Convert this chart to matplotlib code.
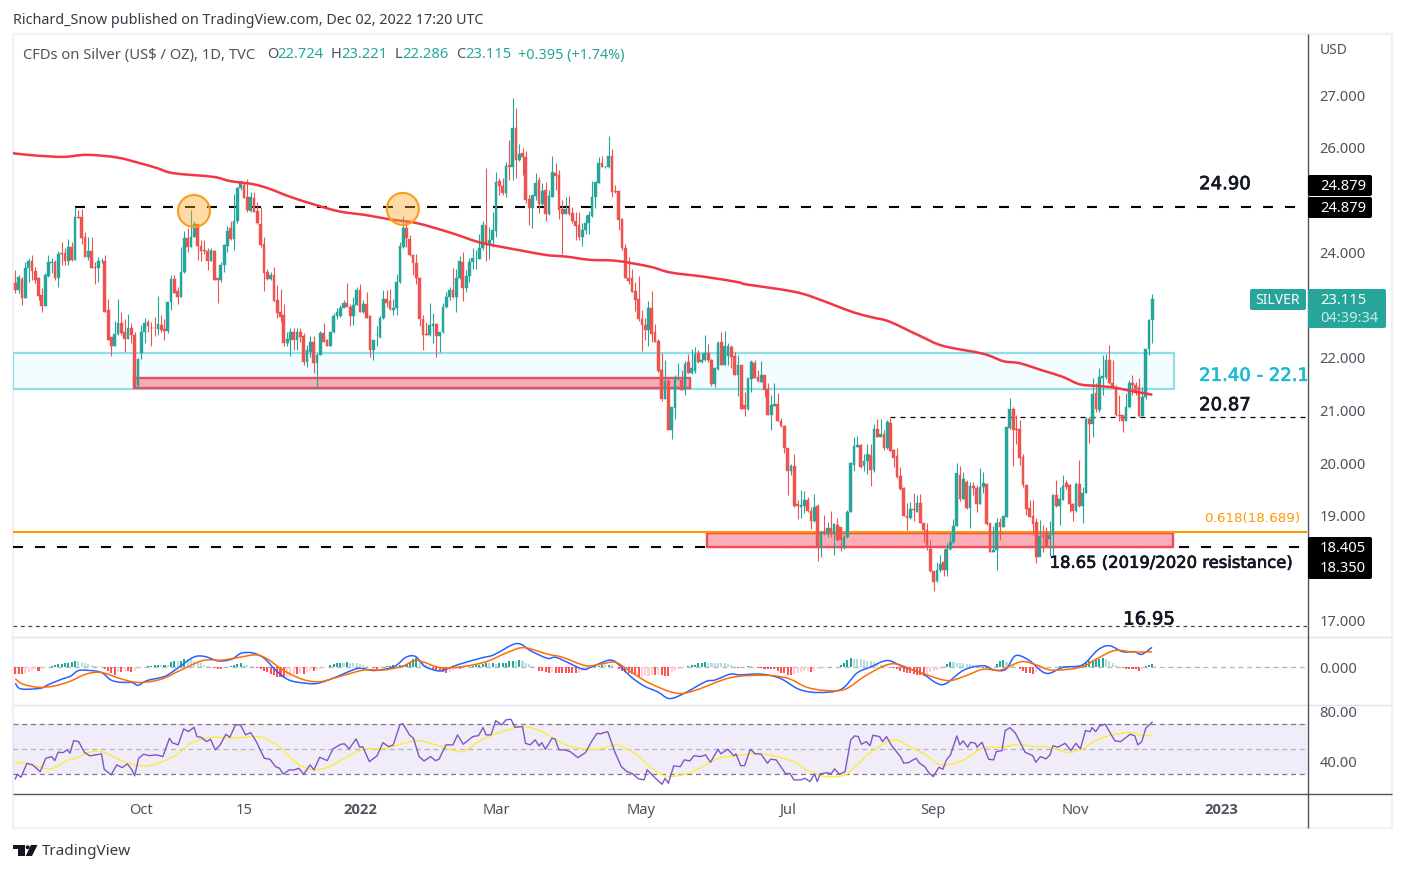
import matplotlib
matplotlib.use("Agg")
import matplotlib.pyplot as plt
import matplotlib.patheffects as pe
import numpy as np
from matplotlib.lines import Line2D
from matplotlib.path import Path
from matplotlib.patches import Circle, FancyBboxPatch, PathPatch, Polygon, Rectangle
from matplotlib.transforms import IdentityTransform

W, H = 1405, 872
UI_FONT = "Noto Sans"
LABEL_FONT = "DejaVu Sans"

# daily candles
opens = [
    23.42,23.29,23.50,23.15,23.71,23.85,23.65,23.53,23.20,22.99,
    23.56,23.80,23.83,23.53,24.00,24.00,23.85,24.11,23.87,24.68,
    24.68,24.31,23.93,24.04,23.74,23.72,23.85,23.85,22.91,22.40,
    22.22,22.45,22.66,22.49,22.36,22.58,22.44,21.47,22.10,22.50,
    22.68,22.58,22.58,22.55,22.63,22.55,22.52,23.06,23.50,23.27,
    23.17,23.63,24.28,24.12,24.30,24.55,24.14,24.05,24.03,23.85,
    24.03,23.52,23.49,23.77,24.14,24.47,24.27,24.60,25.24,25.30,
    25.06,24.80,25.05,24.80,24.56,24.17,23.63,23.50,23.58,23.10,
    22.88,22.81,22.29,22.34,22.50,22.34,22.49,22.42,21.93,22.12,
    22.30,21.91,22.06,22.47,22.34,22.23,22.49,22.80,22.80,22.95,
    23.04,22.98,22.80,23.01,23.29,22.87,23.03,22.80,22.15,22.43,
    22.40,22.76,23.12,23.09,22.91,22.96,23.44,24.12,24.47,24.26,
    23.97,23.80,23.52,22.75,22.45,22.44,22.61,22.65,22.41,22.49,
    22.97,23.17,23.30,23.17,23.52,23.82,23.34,23.57,23.82,23.90,
    23.89,24.09,24.53,24.18,24.25,24.42,25.37,25.28,25.15,25.67,
    25.63,26.38,25.77,25.90,25.82,25.02,24.86,25.09,25.39,24.93,
    25.20,24.74,25.07,25.52,25.48,24.83,24.75,24.85,24.77,24.61,
    24.53,24.31,24.43,24.57,24.70,25.06,25.34,25.72,25.63,25.63,
    25.85,25.19,25.18,24.65,24.10,23.53,23.52,23.27,23.12,22.74,
    22.63,22.53,22.96,22.49,22.32,21.77,21.21,21.56,20.63,21.04,
    21.60,21.58,21.39,21.92,21.71,21.75,22.10,21.93,21.96,22.09,
    21.97,21.50,21.79,22.30,21.87,22.04,22.20,22.03,21.67,21.87,
    21.10,21.03,21.60,21.91,21.63,21.55,21.68,21.41,20.91,21.09,
    21.13,20.80,20.71,20.28,19.85,19.94,19.22,19.17,19.18,19.30,
    19.09,18.90,19.19,18.39,18.69,18.65,18.76,18.65,18.82,18.78,
    18.39,18.59,19.06,19.96,20.31,20.35,19.94,20.03,20.15,19.87,
    20.65,20.50,20.56,20.28,20.77,20.24,20.13,19.75,19.52,19.00,
    18.96,19.12,19.07,19.23,18.86,18.72,18.37,17.94,17.75,17.96,
    18.12,17.96,18.37,18.50,18.80,19.78,19.31,19.64,19.14,19.56,
    19.53,19.22,19.54,19.60,18.85,18.31,18.34,18.88,18.79,18.98,
    20.66,21.03,20.64,20.64,20.12,19.59,19.15,18.99,18.88,18.21,
    18.63,18.69,18.56,18.62,19.39,19.18,19.30,19.61,19.58,19.22,
    19.08,19.60,19.18,19.43,20.83,20.74,21.33,21.01,21.62,21.64,
    21.97,21.53,21.45,20.92,20.92,20.80,21.06,21.52,21.48,21.44,
    20.90,21.25,22.17,22.724,
]
closes = [
    23.29,23.55,23.15,23.71,23.85,23.65,23.49,23.18,22.99,23.59,
    23.83,23.83,23.53,23.99,23.98,23.85,24.11,23.87,24.68,24.66,
    24.29,23.93,24.04,23.72,23.72,23.85,23.85,22.88,22.34,22.22,
    22.45,22.66,22.47,22.36,22.58,22.44,21.49,21.98,22.50,22.66,
    22.60,22.57,22.57,22.64,22.53,22.52,23.06,23.50,23.24,23.17,
    23.63,24.28,24.12,24.30,24.55,24.14,24.04,24.03,23.85,24.05,
    23.49,23.49,23.77,24.15,24.42,24.27,24.60,25.24,25.33,25.05,
    24.81,25.06,24.79,24.58,24.15,23.62,23.50,23.58,23.09,22.86,
    22.79,22.29,22.36,22.50,22.34,22.50,22.40,21.93,22.15,22.31,
    21.91,22.06,22.47,22.31,22.23,22.49,22.80,22.87,22.95,23.05,
    22.98,22.80,23.01,23.30,22.87,23.03,22.77,22.15,22.34,22.44,
    22.77,23.12,23.04,22.93,22.96,23.44,24.13,24.47,24.28,23.96,
    23.80,23.52,22.75,22.44,22.44,22.63,22.65,22.41,22.49,22.97,
    23.17,23.30,23.17,23.53,23.85,23.34,23.57,23.82,23.91,23.91,
    24.09,24.53,24.18,24.25,24.44,25.35,25.28,25.15,25.66,25.63,
    26.38,25.77,25.88,25.82,25.01,24.86,25.10,25.33,24.93,25.18,
    24.74,25.09,25.54,25.47,24.82,24.75,24.83,24.74,24.60,24.52,
    24.30,24.44,24.58,24.72,25.06,25.35,25.71,25.63,25.64,25.85,
    25.17,25.17,24.63,24.10,23.53,23.47,23.26,23.10,22.74,22.62,
    22.53,22.96,22.46,22.31,21.75,21.21,21.56,20.63,21.07,21.60,
    21.61,21.39,21.88,21.71,21.80,22.07,21.93,21.96,22.09,21.96,
    21.50,21.80,22.28,21.87,22.23,22.23,22.02,21.67,21.87,21.03,
    21.03,21.61,21.93,21.61,21.56,21.68,21.39,20.91,21.10,21.12,
    20.80,20.71,20.28,19.85,19.94,19.19,19.19,19.20,19.30,19.09,
    18.90,19.17,18.39,18.69,18.65,18.76,18.65,18.83,18.53,18.53,
    18.59,19.07,20.00,20.33,20.35,19.93,20.04,20.17,19.87,20.65,
    20.50,20.56,20.28,20.79,20.23,20.10,19.74,19.50,18.99,18.96,
    19.12,19.11,19.23,18.86,18.72,18.40,17.94,17.74,17.96,18.07,
    17.96,18.37,18.50,18.80,19.81,19.31,19.69,19.14,19.56,19.53,
    19.22,19.54,19.61,18.83,18.31,18.34,18.85,18.79,18.99,20.68,
    21.02,20.63,20.63,20.09,19.58,19.12,18.98,18.83,18.21,18.61,
    18.60,18.40,18.62,19.39,19.18,19.32,19.56,19.54,19.22,19.08,
    19.60,19.18,19.43,20.83,20.75,21.31,21.02,21.64,21.65,21.96,
    21.52,21.44,20.91,20.90,20.80,21.06,21.52,21.48,21.34,20.90,
    21.25,22.17,22.72,23.115,
]
highs = [
    23.68,23.58,23.55,23.83,23.90,23.96,23.74,23.55,23.33,23.61,
    23.96,23.90,23.87,24.03,24.20,24.09,24.26,24.20,24.88,24.82,
    24.83,24.40,24.30,24.30,23.83,23.93,23.90,23.96,23.12,22.40,
    22.71,23.13,22.87,22.75,22.83,22.67,22.50,22.00,22.62,22.77,
    22.72,22.68,22.79,23.18,22.82,22.75,23.06,23.58,23.58,23.36,
    24.12,24.42,24.47,24.82,24.60,24.56,24.25,24.24,24.09,24.09,
    24.05,23.53,23.82,24.18,24.52,24.60,25.12,25.26,25.39,25.36,
    25.40,25.17,25.17,24.97,24.88,24.31,23.70,23.64,23.74,23.39,
    23.31,23.03,22.50,22.57,22.57,22.57,22.57,22.47,22.25,22.42,
    22.41,22.10,22.52,22.66,22.37,22.49,22.85,22.95,23.00,23.10,
    23.43,23.03,23.17,23.36,23.41,23.11,23.26,22.82,22.34,22.60,
    22.80,23.30,23.30,23.31,23.13,23.60,24.20,24.70,24.63,24.34,
    23.98,23.98,23.55,22.82,22.69,23.04,22.85,22.67,22.50,23.05,
    23.26,23.36,23.71,23.69,23.94,24.01,23.68,23.90,24.09,24.06,
    24.36,24.60,25.61,24.50,24.79,25.55,25.42,25.42,25.74,26.15,
    26.95,26.77,26.08,26.00,25.94,25.10,25.10,25.53,25.44,25.33,
    25.36,25.20,25.85,25.71,25.58,25.01,25.07,25.08,24.88,24.79,
    24.79,24.57,24.72,24.80,25.37,25.36,25.82,25.85,25.66,26.23,
    25.99,25.29,25.20,24.66,24.17,23.93,23.70,23.45,23.56,22.91,
    22.77,23.09,23.28,22.65,22.37,22.09,21.96,21.64,21.07,21.67,
    21.90,21.77,21.94,22.07,22.18,22.20,22.15,22.09,22.44,22.27,
    21.99,21.83,22.33,22.49,22.51,22.28,22.25,22.12,22.06,21.87,
    21.36,21.61,21.96,21.96,21.77,21.94,21.68,21.52,21.29,21.53,
    21.34,20.85,20.72,20.29,19.99,20.18,19.29,19.49,19.47,19.36,
    19.17,19.41,19.22,18.71,19.01,18.88,19.09,18.85,18.95,18.78,
    18.63,19.10,20.02,20.50,20.51,20.37,20.18,20.37,20.37,20.74,
    20.83,20.83,20.63,20.82,20.85,20.26,20.28,19.93,19.55,19.23,
    19.26,19.42,19.39,19.41,18.86,18.85,18.53,17.94,18.12,18.25,
    18.37,18.47,18.66,18.93,20.00,19.94,19.82,19.67,19.64,19.64,
    19.59,19.90,19.83,19.61,18.85,18.80,18.96,18.95,18.99,20.69,
    21.24,21.06,20.91,20.81,20.17,19.60,19.29,19.29,18.96,18.91,
    18.82,18.79,18.90,19.41,19.67,19.55,19.77,19.67,19.60,19.23,
    19.63,20.06,19.55,20.88,20.87,21.61,21.52,21.81,22.05,22.07,
    22.25,21.97,21.48,21.29,20.92,21.33,21.59,21.67,21.55,21.61,
    21.45,22.18,22.74,23.221,
]
lows = [
    23.23,23.23,23.01,23.14,23.44,23.49,23.42,23.10,22.88,22.99,
    23.55,23.61,23.49,23.36,23.77,23.77,23.78,23.85,23.87,24.66,
    24.18,23.92,23.87,23.71,23.40,23.45,23.80,22.88,22.34,22.04,
    22.22,22.44,22.44,22.12,22.36,22.28,21.45,21.45,21.99,22.28,
    22.50,22.22,22.42,22.44,22.50,22.34,22.47,22.91,23.23,23.03,
    23.17,23.61,24.02,24.12,24.30,23.87,23.85,23.99,23.67,23.84,
    23.49,23.04,23.45,23.64,24.02,24.25,24.06,24.58,25.20,25.05,
    24.79,24.79,24.79,24.56,24.12,23.28,23.49,23.49,23.09,22.77,
    22.69,22.22,22.22,22.04,22.15,22.15,22.31,21.87,21.83,22.02,
    21.71,21.45,22.06,22.31,22.22,22.22,22.48,22.75,22.78,22.95,
    22.98,22.60,22.63,23.01,22.87,22.85,22.77,22.02,21.96,22.22,
    22.39,22.75,22.98,22.91,22.82,22.82,23.43,24.09,24.12,23.95,
    23.59,23.41,22.60,22.15,22.43,22.41,22.28,22.02,22.12,22.47,
    22.96,23.10,23.15,22.88,23.50,23.09,23.26,23.44,23.69,23.70,
    23.89,24.06,23.85,23.89,24.11,24.30,25.10,25.10,25.06,25.39,
    25.39,25.42,25.76,25.49,24.96,24.53,24.47,25.01,24.76,24.91,
    24.60,24.73,25.06,25.20,24.64,23.98,24.75,24.72,24.57,24.25,
    24.25,24.14,24.37,24.37,24.69,24.85,25.33,25.63,25.62,25.62,
    25.07,25.14,24.44,24.06,23.52,23.41,23.25,22.90,22.71,22.14,
    22.34,22.23,22.31,22.31,21.74,21.19,21.21,20.63,20.45,20.83,
    21.59,21.39,21.29,21.71,21.70,21.71,21.91,21.91,21.95,21.93,
    21.46,21.45,21.77,21.87,21.87,21.87,21.80,21.67,21.28,21.03,
    20.90,21.01,21.36,21.61,21.55,21.55,21.25,20.91,20.62,21.08,
    20.80,20.69,20.20,19.39,19.77,19.17,18.93,18.96,19.04,19.07,
    18.74,18.88,18.14,18.21,18.63,18.60,18.60,18.25,18.52,18.33,
    18.37,18.58,19.06,19.85,20.30,19.90,19.85,19.79,19.57,19.82,
    20.49,20.49,20.25,20.26,20.23,19.93,19.71,19.49,18.99,18.72,
    18.93,18.90,19.07,18.85,18.50,18.35,17.93,17.56,17.73,17.93,
    17.85,17.85,18.34,18.47,18.80,19.28,19.31,19.12,18.77,19.40,
    19.07,19.21,19.42,18.82,18.31,18.30,17.96,18.53,18.78,18.97,
    20.65,19.94,20.37,19.96,19.55,19.01,18.97,18.63,18.10,18.23,
    18.30,18.40,18.23,18.25,19.17,18.82,19.30,19.50,19.07,18.90,
    19.07,19.17,18.85,19.42,20.39,20.50,20.98,20.98,21.29,21.60,
    21.50,21.42,20.90,20.80,20.60,20.80,21.05,21.29,21.29,20.88,
    20.89,21.22,22.06,22.286,
]

# 200 day moving average: bar number, price
ma_bar = [-0.7,5.4,14.5,21.5,30.6,37.6,42.6,47.7,59.7,64.8,71.8,76.8,82.9,90.9,97.9,106,113,121,
          131.1,140.1,147.2,153.2,160.3,166.3,173.3,181.4,191.4,197.5,207.5,217.6,220.6,230.6,
          237.7,245.7,252.8,258.8,263.8,272.9,279.9,292,298,303,310,316,321,326,331,336,343]
ma_val = [25.90,25.86,25.83,25.87,25.82,25.71,25.62,25.52,25.45,25.37,25.31,25.22,25.07,24.91,24.79,24.72,24.64,24.57,
          24.39,24.20,24.11,24.04,23.96,23.93,23.87,23.85,23.74,23.63,23.55,23.45,23.40,23.31,
          23.22,23.04,22.87,22.77,22.69,22.42,22.23,22.08,21.94,21.90,21.76,21.64,21.50,21.47,21.44,21.38,21.30]

# MACD pane
macd_bar = [0,1.7,7.5,9.8,13.9,16.7,19.1,22.5,26,28.9,31.8,35.2,37,39.8,45,48.5,53.7,57.2,61.2,65.2,68.1,71.6,75.1,
            78.5,82.6,87.8,91.2,95.8,100.5,103.9,108.5,114.3,117.8,120.7,123.6,127.6,129.9,133.9,140.9,144.3,150.1,
            152.7,155.3,160.5,163.4,170.9,173.2,176.4,179.3,181.6,185.6,189.7,193.7,197.2,201.2,208.2,211,215.7,218.5,
            224.9,230.7,236.4,242.2,249.1,253.8,257.8,263,267.6,273.4,278,280.9,286.1,291.9,295.3,298.8,301.7,305.7,
            310.9,316.1,321.9,326.5,330,334,337.5,339.8,342.9]
macd_val = [-0.40,-0.54,-0.525,-0.44,-0.30,-0.22,-0.08,-0.08,-0.13,-0.32,-0.375,-0.38,-0.45,-0.33,-0.23,-0.05,0.25,0.27,0.16,0.20,0.35,0.36,0.225,
            -0.07,-0.32,-0.40,-0.40,-0.275,-0.11,-0.025,-0.08,0.02,0.25,0.27,0.02,-0.09,-0.05,0.075,0.24,0.31,0.57,
            0.57,0.42,0.225,0.24,-0.04,-0.01,0.10,0.18,0.10,-0.23,-0.47,-0.61,-0.78,-0.675,-0.36,-0.32,-0.17,-0.19,
            -0.17,-0.275,-0.55,-0.63,-0.55,-0.15,0,0.17,0.02,-0.15,-0.40,-0.40,-0.07,0.04,-0.07,-0.05,0.29,0.18,
            -0.15,0,0.06,0.43,0.54,0.39,0.39,0.325,0.50]
signal_bar = [0,2.3,6.9,11.5,16.2,21.4,26,32.3,37.5,43.9,49.7,56.6,62.4,67.6,72.7,76.2,80.8,86.6,91.8,97,105.1,110.9,116.6,
              121.2,128.2,135.1,142,149,153.6,160.5,165.1,172,176.4,181,185.6,191.4,199.5,205.3,215.7,226,233,238.8,244.5,
              250.3,256.1,261.9,265.9,272.2,280.9,286.1,291.9,297.1,303.4,308,312.7,321.3,326.5,331.7,337.5,342.9]
signal_val = [-0.29,-0.42,-0.50,-0.47,-0.36,-0.17,-0.13,-0.30,-0.38,-0.30,-0.08,0.17,0.18,0.25,0.31,0.20,-0.07,-0.30,-0.36,-0.25,-0.07,-0.07,0.02,
              0.17,-0.01,0.02,0.14,0.39,0.49,0.33,0.25,0.04,0.075,0.125,-0.11,-0.40,-0.65,-0.57,-0.26,-0.20,-0.275,-0.50,-0.58,
              -0.55,-0.23,0.03,0.08,-0.11,-0.33,-0.23,-0.05,-0.07,0.14,0.06,-0.07,0,0.225,0.42,0.38,0.39]
# histogram in hundredths
hist_pct = [
    -17,-17,-17,-13,-11,-8,-4,-8,-4,-1, 1,3,5,8,9,11,12,13,17,17,
    14,11,8,6,4,3,1,-4,-10,-15, -18,-12,-12,-10,-10,-12,-8,-4,-1,1,
    3,4,5,6,5,7,7,13,15,15, 17,20,20,20,17,12,10,7,4,1,
    -2,-3,-4,1,2,3,5,8,10,7, 5,3,1,-1,-4,-8,-12,-17,-18,-23,
    -25,-27,-25,-21,-17,-17,-15,-17,-12,-8, -8,-7,-4,-2,2,5,8,10,12,12,
    13,12,10,10,8,7,4,2,-2,-4, -2,0,3,4,5,4,5,7,8,13,
    21,23,17,10,7,4,-4,-8,-10,-12, -15,-12,-8,-4,-4,2,3,3,4,6,
    7,8,10,10,11,8,10,11,12,15, 17,17,18,15,12,8,3,0,-8,-10,
    -11,-13,-12,-13,-13,-13,-13,-13,-14,-14, -13,-8,-6,-3,-1,3,4,6,6,7,
    5,2,-5,-8,-11,-13,-17,-20,-25,-23, -22,-21,-20,-20,-18,-18,-22,-22,-12,-8,
    -5,-3,1,3,5,7,10,12,13,12, 12,11,11,10,10,8,5,2,-2,0,
    2,3,3,2,-1,-2,-3,-3,-4,-4, -8,-13,-15,-18,-20,-17,-13,-12,-10,-8,
    -12,-8,-5,-4,-2,0,1,1,2,5, 12,19,23,22,21,20,18,17,15,13,
    10,7,5,3,0,-2,-4,-8,-12,-14, -15,-17,-18,-20,-22,-18,-12,-8,-6,-3,
    2,9,13,13,12,12,10,9,8,6, 4,1,-2,-2,-1,0,8,15,18,14,
    10,5,2,-5,-10,-13,-15,-17,-12,-8, -4,-2,0,1,2,3,3,3,3,3,
    3,4,8,13,15,18,20,22,23,21, 17,12,6,1,-1,-3,-3,-4,-5,-8,
    -3,3,5,8,
]

# RSI pane
rsi_bar = [0,0.6,1.7,3.5,5.2,7.5,9.2,11,11.9,12.9,14.4,15.6,16.5,17.6,19.1,20.8,22.5,24.2,26,26.8,28.9,30.6,32.3,33.8,35.2,36,
           37.2,38.7,40.4,42.7,44.5,46.5,47.3,49.1,50.8,52.2,53.9,54.8,56,57.7,58.9,60.3,61.8,63.5,64.7,66.4,67.9,69.5,71,72.7,
           75.1,76.8,78.5,79.7,80.8,82.6,84.1,85.5,87,88.9,90.1,91.8,94.1,95.8,98.2,99.3,100.7,102.8,103.9,104.8,106.8,109.1,
           110.9,112.6,114,116,116.9,118.9,120.1,121.8,123.3,125.3,126.7,127.8,129.9,132,133.4,135.1,138,139.7,141.1,142,143.5,
           144.9,146.7,148,149.5,150.7,153,153.9,155.3,156.8,158,158.8,159.9,161.9,162.8,164,165.7,167.4,169.7,172,173.8,175.5,
           176.4,178.7,181,182.8,184.5,186.2,188,189.7,190.6,193.1,195.1,196,197,198.6,200.6,201.8,203.5,204.7,206.7,208.2,209.7,
           212,212.8,214.9,216.8,217.4,218.8,220,221.7,223.2,224.9,226.9,227.8,229.5,232.4,233.6,234.9,237,238.2,239.7,241.1,
           241.9,242.8,245.1,246,247.1,248.6,250.3,252,253.2,254.3,255.2,256.7,257.8,258.7,260.7,261.6,262.8,264.2,267,268,269.4,
           271.7,272.8,274.3,275.7,276.9,278.6,279.8,280.9,282.1,284,284.9,285.9,287.3,288.1,289.6,290.1,291.6,293.6,295.1,295.9,
           297.6,298.6,300,301.7,304.6,306.9,307.8,309.2,310.9,312.1,313,314.4,316.7,318.4,319.9,321.3,322.8,324.2,324.8,325.9,
           327.1,328.8,330.6,331.7,333.4,336.3,337.7,338.6,339.8,341,342.9]
rsi_val = [26.3,30,27.6,38.8,37.5,32.1,42.8,44.1,40.9,47.6,47.3,49.5,46.8,56.9,56.1,47.6,44.7,45.5,46.3,34,29.5,37.5,35.3,38.3,33.5,28.7,
           42.8,46,44.9,45.5,44.1,58.8,55.3,53.5,66.3,64.1,67.6,60.1,59.6,56.1,58,49.5,53.5,62,59.6,69.5,69.5,61.5,63.3,56.1,
           42.8,42,36.1,34.8,30,33.5,33.5,34.8,30,37.5,33.5,43.6,40.9,50.3,54,54.3,50.3,58.3,51.6,52.1,40.1,44.7,
           55.3,52.1,53.5,69.5,70.5,61.5,58.8,44.1,40.7,44.1,40.9,42,53.5,53.5,61.5,54,60.1,60.9,67.3,61.5,61.5,
           72.9,69.5,73.5,74,67.6,68.1,54.8,53.5,57.5,52.7,55.3,50,58.8,58.3,49.5,49.5,48.1,43.3,47.3,56.1,62.8,
           62.3,64.1,46.8,36.1,32.1,30.3,26.3,25.5,33.5,26.8,22,26.8,22.8,36.7,36.1,41.5,40.7,44.9,44.1,45.5,39.6,
           50,46.3,50,44.7,46.3,36.9,36.9,50,46.3,46.3,38.8,42,41.5,30.3,30.8,25.5,25.5,26.8,24.1,30.3,
           24.1,30.3,31.3,30,34.3,30,32.1,57.5,60.7,60.1,54,56.1,52.9,61.2,60.1,56.1,60.1,53.5,44.1,38.8,39.3,
           42.8,38.8,36.1,30.8,28.1,35.6,34,41.5,45.5,60.7,53.5,56.7,51.6,55.6,54.8,51.6,55.6,42,41.5,48.1,
           48.9,64.9,67.3,62.8,47.6,44.9,39.6,44.1,42.3,45.5,52.9,51.6,54.8,48.9,54.8,50.3,64.9,64.1,67.3,64.1,
           68.7,70,61.5,56.7,56.1,62,60.7,53.5,56.1,66.8,71.6]
rsi_ma_bar = [0,3.5,5.8,9.8,12.1,15.6,18.5,22.5,26,30,34.6,39.8,45,48.5,53.1,58.9,64.7,72.2,75.1,79.7,83.1,86.6,90.6,94.7,99.3,105.1,
              110.9,115.5,121.2,127,132.8,135.7,141.5,150.1,153,157.6,166.3,172.6,176.4,179.9,182.2,186.8,191.4,196,201.2,206.4,
              212.2,218,224.9,234.1,238.8,244.5,250.3,253.8,258.4,264.7,269.9,274.6,279.2,285.5,291.9,297.6,302.8,306.9,310.9,
              317.3,321.9,325.4,330,336.3,339.8,342.9]
rsi_ma_val = [39.6,38.3,36.7,34.3,35.6,40.9,43.3,47.6,48.1,43.6,38.3,36.7,40.9,45.5,54.8,59.6,58.8,60.1,58.8,52.1,42.8,36.1,33.7,36.1,42.8,50,
              50.3,53.5,56.9,53.5,48.7,48.9,58.8,66.8,68.1,65.5,53.5,50,50.3,52.9,52.9,46.8,36.1,28.7,29.5,34.8,
              42.8,44.9,46.3,40.9,33.5,28.1,29.5,37.5,48.1,57.5,52.1,45.5,37.5,40.9,50.8,51.6,54,52.1,52.1,
              47.6,50,56.1,60.9,63.3,60.9,61.2]

price_ticks = [27, 26, 24, 22, 21, 20, 19, 17]
time_ticks = [37.9, 69, 104, 145, 188.7, 233.1, 276.8, 319.9, 363.7]
time_labels = ["Oct", "15", "2022", "Mar", "May", "Jul", "Sep", "Nov", "2023"]
bold_times = ["2022", "2023"]

UP, DOWN = "#26a69a", "#ef5350"
TEXT = "#50535e"
GRID = "#e0e3eb"
UI_SIZE = 10.6

plt.rcParams["font.family"] = UI_FONT
fig = plt.figure(figsize=(W / 100, H / 100), dpi=100, facecolor="white")
bar_pos = np.arange(len(closes))


def pane(top, bottom):
    # axes placed by pixel rows, all sharing the same bar scale
    ax = fig.add_axes([13 / W, 1 - bottom / H, (1307 - 13) / W, (bottom - top) / H])
    ax.set_xlim(-0.70, 389.64)
    for side in ax.spines.values():
        side.set_visible(False)
    ax.yaxis.tick_right()
    ax.tick_params(axis="y", length=0, pad=9, labelsize=UI_SIZE, labelcolor=TEXT)
    ax.set_xticks([])
    ax.patch.set_alpha(0)
    return ax


def ftext(x, y, s, **kw):
    kw.setdefault("va", "center")
    return fig.text(x / W, 1 - y / H, s, **kw)


def fline(x0, y0, x1, y1, color, lw=1.0, z=20):
    fig.add_artist(Line2D([x0 / W, x1 / W], [1 - y0 / H, 1 - y1 / H], color=color, lw=lw, zorder=z,
                          solid_capstyle="butt"))


def tag(x0, y0, x1, y1, color):
    fig.add_artist(FancyBboxPatch((x0, H - y1), x1 - x0, y1 - y0, boxstyle="round,pad=0,rounding_size=2",
                                  fc=color, ec="none", transform=IdentityTransform(), zorder=30))


def curve(ax, xs, ys, color, lw, z):
    # smooth line through the read points, as the indicators are smooth on the chart
    pts = np.column_stack([xs, ys])
    verts = [pts[0]]
    codes = [Path.MOVETO]
    for i in range(len(pts) - 1):
        before = pts[max(i - 1, 0)]
        after = pts[min(i + 2, len(pts) - 1)]
        verts += [pts[i] + (pts[i + 1] - before) / 6, pts[i + 1] - (after - pts[i]) / 6, pts[i + 1]]
        codes += [Path.CURVE4] * 3
    ax.add_patch(PathPatch(Path(verts, codes), fc="none", ec=color, lw=lw, zorder=z, capstyle="butt"))


# main pane
ax = pane(34, 637)
ax.set_ylim(16.686, 28.171)
ax.set_yticks(price_ticks, [f"{t:.3f}" for t in price_ticks])

ax.add_patch(Rectangle((-0.7, 21.4), 350.1, 0.7, fc="#f3fcfe", ec="#90dfe8", lw=1.6, zorder=1))
ax.add_patch(Rectangle((35.8, 21.42), 167.7, 0.205, fc="#f0aeb6", ec="#ec4e5d", lw=1.7, zorder=2))
ax.add_patch(Rectangle((208.6, 18.405), 140.7, 0.255, fc="#fcaeb8", ec="#ef4b5b", lw=1.7, zorder=2))

dash = (0, (4.8, 5.76))
ax.hlines(24.879, 18, 389.64, color="black", lw=1.5, ls=dash, zorder=3)
ax.hlines(18.405, -0.7, 389.64, color="black", lw=1.5, ls=dash, zorder=1.5)
ax.hlines(20.87, 264, 389.64, color="black", lw=0.9, ls=(0, (4, 4)), zorder=3)
ax.hlines(16.895, -0.7, 389.64, color="#444444", lw=0.9, ls=(0, (3, 3)), zorder=3)
ax.hlines(18.689, -0.7, 389.64, color="#ff9800", lw=1.5, zorder=3)

o, c, hi, lo = map(np.array, (opens, closes, highs, lows))
colors = np.where(c >= o, UP, DOWN)
ax.vlines(bar_pos, lo, hi, colors=colors, lw=0.8, zorder=4)
ax.bar(bar_pos, np.abs(c - o), bottom=np.minimum(o, c), width=0.82, color=colors, ec=colors, lw=0.3, zorder=5)

curve(ax, ma_bar, ma_val, "#f23645", 1.8, 6)

for bx, by in [(53.9, 24.80), (116.9, 24.84)]:
    ax.scatter(bx, by, s=530, fc="#ffa726", alpha=0.4, ec="none", zorder=7)
    ax.scatter(bx, by, s=530, fc="none", ec="#f79d1c", lw=1.5, zorder=7)


def note(x, y, s, color="#131722", size=13):
    # chart annotations are a touch heavier than regular weight
    t = ax.text(x, y, s, color=color, fontsize=size, family=LABEL_FONT, va="center", zorder=9, clip_on=True)
    t.set_path_effects([pe.withStroke(linewidth=0.5, foreground=color)])


note(357.1, 25.31, "24.90")
note(357.1, 21.10, "20.87")
note(312, 18.09, "18.65 (2019/2020 resistance)", size=11.8)
note(334.2, 17.02, "16.95")
note(357.1, 21.66, "21.40 - 22.10", color="#1cbcd4")
ax.text(358.6, 18.94, "0.618(18.689)", color="#ff9800", fontsize=9.7, family=LABEL_FONT, va="center", zorder=9)

# MACD pane
ax_macd = pane(637, 705)
ax_macd.set_ylim(-0.9425, 0.7575)
ax_macd.set_yticks([0], ["0.000"])
ax_macd.axhline(0, color="#b2b5be", lw=0.9, ls=(0, (4, 3)), zorder=1)
hist = np.array(hist_pct) / 100
prev = np.r_[hist[0], hist[:-1]]
bar_colors = [("#26a69a" if v > p else "#b2dfdb") if v >= 0 else ("#ffcdd2" if v > p else "#ff5252")
              for v, p in zip(hist, prev)]
ax_macd.bar(bar_pos, hist, width=0.62, color=bar_colors, zorder=2)
curve(ax_macd, macd_bar, macd_val, "#2962ff", 1.1, 3)
curve(ax_macd, signal_bar, signal_val, "#ff6d00", 1.1, 4)

# RSI pane
ax_rsi = pane(705, 793)
ax_rsi.set_ylim(15.0, 85.4)
ax_rsi.set_yticks([80, 40], ["80.00", "40.00"])
ax_rsi.axhspan(30, 70, fc="#7e57c2", alpha=0.1, ec="none", zorder=1)
ax_rsi.axhline(70, color="#787b86", lw=0.9, ls=(0, (4, 3)), zorder=2)
ax_rsi.axhline(50, color="#b2b5be", lw=0.9, ls=(0, (4, 3)), zorder=2)
ax_rsi.axhline(30, color="#787b86", lw=0.9, ls=(0, (4, 3)), zorder=2)
curve(ax_rsi, rsi_ma_bar, rsi_ma_val, "#ffeb3b", 1.0, 3)
ax_rsi.plot(rsi_bar, rsi_val, color="#7e57c2", lw=1.0, zorder=4)
ax_rsi.set_xticks(time_ticks, time_labels)
ax_rsi.tick_params(axis="x", length=0, pad=7, labelsize=UI_SIZE, labelcolor=TEXT)
for lab in ax_rsi.get_xticklabels():
    if lab.get_text() in bold_times:
        lab.set_family("Open Sans")
        lab.set_fontweight("bold")

# chart frame and pane rules
fig.add_artist(Rectangle((13 / W, 1 - 828 / H), 1379 / W, 794 / H, fc="none", ec="#f0f0f6", lw=1.6,
                         transform=fig.transFigure, zorder=0))
fline(13, 637, 1392, 637, GRID)
fline(13, 705, 1392, 705, GRID)
fline(13, 793.5, 1392, 793.5, TEXT)
fline(1307.5, 34, 1307.5, 828, TEXT)

# header text
ftext(13, 20, "Richard_Snow published on TradingView.com, Dec 02, 2022 17:20 UTC", color="#363a45", fontsize=10.3)
ftext(23, 55, "CFDs on Silver (US$ / OZ), 1D, TVC", color=TEXT, fontsize=UI_SIZE)
for x_lab, lab, x_val, val in [(267, "O", 277, "22.724"), (331, "H", 341, "23.221"),
                               (395, "L", 402, "22.286"), (456, "C", 465, "23.115")]:
    ftext(x_lab, 55, lab, color=TEXT, fontsize=UI_SIZE)
    ftext(x_val, 55, val, color=UP, fontsize=UI_SIZE)
ftext(518, 55, "+0.395 (+1.74%)", color=UP, fontsize=10.4)
ftext(1320, 51, "USD", color=TEXT, fontsize=10)

# last price and horizontal line tags
tag(1308, 175, 1372, 196, "black")
tag(1308, 197, 1372, 218, "black")
ftext(1320, 186, "24.879", color="white", fontsize=UI_SIZE, zorder=31)
ftext(1320, 208, "24.879", color="white", fontsize=UI_SIZE, zorder=31)
tag(1308, 537, 1372, 579, "black")
ftext(1320, 548, "18.405", color="white", fontsize=UI_SIZE, zorder=31)
ftext(1320, 569, "18.350", color="white", fontsize=UI_SIZE, zorder=31)
tag(1250, 289, 1306, 310, UP)
ftext(1255, 300, "SILVER", color="white", fontsize=10, zorder=31)
tag(1308, 289, 1386, 328, UP)
ftext(1320, 300, "23.115", color="white", fontsize=UI_SIZE, zorder=31)
ftext(1320, 318, "04:39:34", color="#c9ebe7", fontsize=UI_SIZE, zorder=31)

# TradingView mark and wordmark
logo = IdentityTransform()
fig.add_artist(Polygon([(13, H - 845), (25, H - 845), (25, H - 856), (18, H - 856), (18, H - 849), (13, H - 849)],
                       closed=True, fc="#131722", ec="none", transform=logo))
fig.add_artist(Circle((27.7, H - 847.3), 2, fc="#131722", ec="none", transform=logo))
fig.add_artist(Polygon([(31, H - 845), (37.5, H - 845), (32, H - 856), (25.7, H - 856)],
                       closed=True, fc="#131722", ec="none", transform=logo))
ftext(42, 851, "TradingView", color="#363a45", fontsize=11)

fig.savefig("out.png", dpi=100)
